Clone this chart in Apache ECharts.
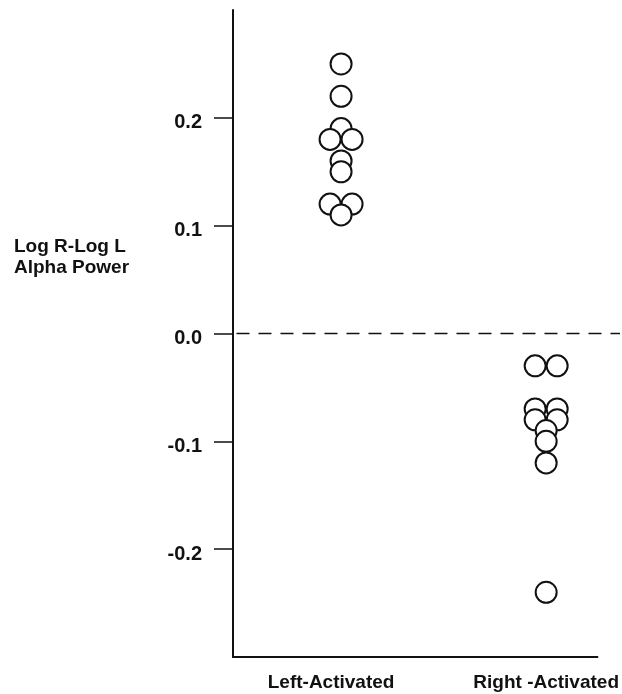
<!DOCTYPE html>
<html>
<head>
<meta charset="utf-8">
<script src="https://cdn.jsdelivr.net/npm/echarts@6/dist/echarts.min.js"></script>
<style>html,body{margin:0;padding:0;background:#fff}#c{width:622px;height:694px}</style>
</head>
<body>
<div id="c"></div>
<script>
// ---- data ----
const categories = ['Left-Activated', 'Right -Activated'];
const categoryX = [1, 2];
const leftValues  = [0.25, 0.22, 0.19, 0.18, 0.18, 0.16, 0.15, 0.12, 0.12, 0.11];
const leftSides   = ['C', 'C', 'C', 'L', 'R', 'C', 'C', 'L', 'R', 'C'];
const rightValues = [-0.03, -0.03, -0.07, -0.07, -0.08, -0.08, -0.09, -0.10, -0.12, -0.24];
const rightSides  = ['L', 'R', 'L', 'R', 'L', 'R', 'C', 'C', 'C', 'C'];
const yTicks = [-0.2, -0.1, 0.0, 0.1, 0.2];
const yAxisTitle = 'Log R-Log L\nAlpha Power';
const referenceValue = 0;
const referenceSpan = [0.49, 2.36];

const FONT = "'Liberation Sans', Arial, Helvetica, sans-serif";
const sideShift = { L: -11, C: 0, R: 11 };

function buildPoints(x, values, sides) {
  return values.map((v, i) => ({ value: [x, v], symbolOffset: [sideShift[sides[i]], 0] }));
}

const chart = echarts.init(document.getElementById('c'), null, { renderer: 'canvas' });
const xMin = 0.473, xMax = 2.25;
const labelStyle = { fontFamily: FONT, fontSize: 19, fontWeight: 'bold', color: '#111' };

const option = {
  backgroundColor: '#fff',
  animation: false,
  title: {
    text: yAxisTitle,
    left: 9, top: 231,
    textStyle: { fontFamily: FONT, fontSize: 19, fontWeight: 'bold', color: '#111', lineHeight: 21 }
  },
  grid: { left: 233, right: 24, top: 10, bottom: 37 },
  xAxis: {
    type: 'value', min: xMin, max: xMax,
    splitLine: { show: false },
    axisLine: { onZero: false, lineStyle: { color: '#111', width: 2 } },
    axisTick: { show: false },
    axisLabel: {
      customValues: categoryX,
      formatter: (v) => {
        const i = categoryX.indexOf(v);
        return i === 0 ? '{l|' + categories[i] + '}' : '{r|' + (categories[i] || '') + '}';
      },
      margin: 16,
      rich: {
        l: Object.assign({ padding: [0, 20, 0, 0] }, labelStyle),
        r: Object.assign({}, labelStyle)
      },
      ...labelStyle
    }
  },
  yAxis: {
    type: 'value', min: -0.3, max: 0.3,
    splitLine: { show: false },
    axisLine: { show: true, onZero: false, lineStyle: { color: '#111', width: 2 } },
    axisTick: { show: true, customValues: yTicks, length: 19, lineStyle: { color: '#111', width: 1.5 } },
    axisLabel: {
      customValues: yTicks,
      formatter: (v) => Number(v).toFixed(1),
      margin: 31,
      verticalAlign: 'top',
      lineHeight: 10,
      fontFamily: FONT, fontSize: 20, fontWeight: 'bold', color: '#111'
    }
  },
  series: [
    {
      type: 'scatter',
      data: buildPoints(categoryX[0], leftValues, leftSides),
      symbol: 'circle', symbolSize: 21,
      itemStyle: { color: '#fff', borderColor: '#111', borderWidth: 2, opacity: 1 },
      z: 3
    },
    {
      type: 'scatter',
      data: buildPoints(categoryX[1], rightValues, rightSides),
      symbol: 'circle', symbolSize: 21,
      itemStyle: { color: '#fff', borderColor: '#111', borderWidth: 2, opacity: 1 },
      z: 3
    }
  ]
};
chart.setOption(option);

// dashed reference line at y = 0, positioned through the chart's own scales
const p1 = chart.convertToPixel({ gridIndex: 0 }, [referenceSpan[0], referenceValue]);
const p2 = chart.convertToPixel({ gridIndex: 0 }, [referenceSpan[1], referenceValue]);
chart.setOption({
  graphic: [{
    type: 'line',
    z: 1,
    silent: true,
    shape: { x1: p1[0], y1: p1[1], x2: p2[0], y2: p2[1] },
    style: { stroke: '#111', lineWidth: 1.5, lineDash: [13, 9] }
  }]
});
</script>
</body>
</html>
